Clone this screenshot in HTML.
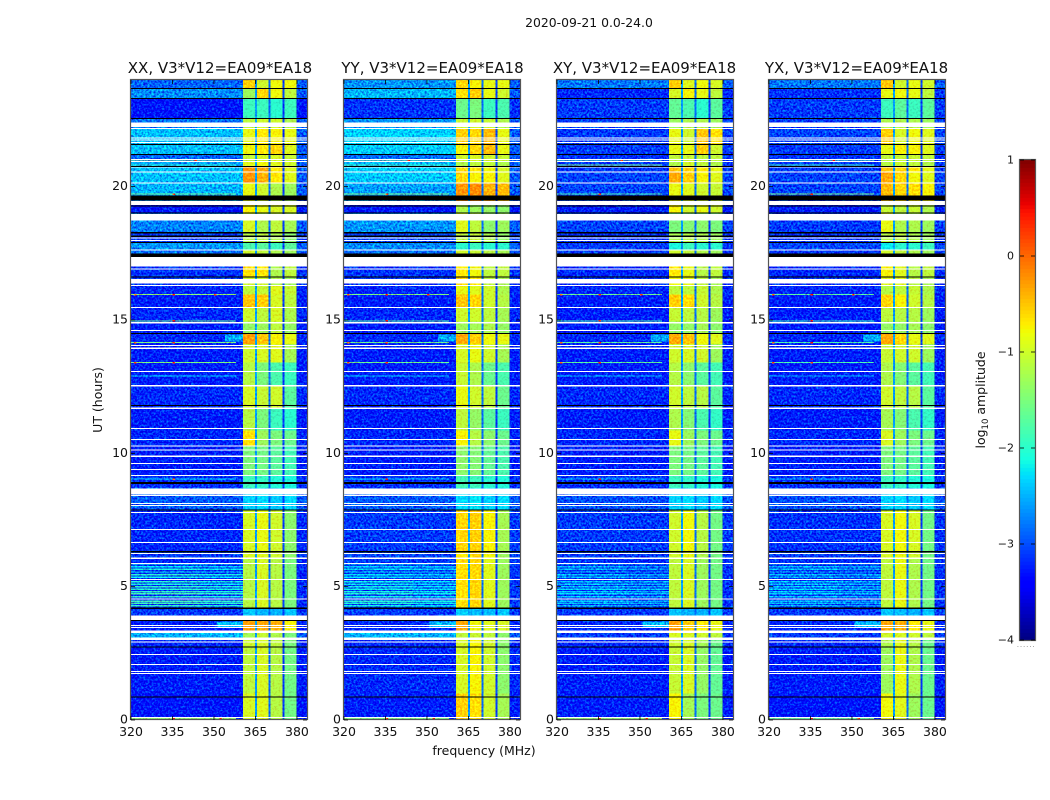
<!DOCTYPE html>
<html lang="en">
<head>
<meta charset="utf-8">
<title>2020-09-21 amplitude waterfall</title>
<style>
html,body{margin:0;padding:0;background:#fff;width:1050px;height:800px;overflow:hidden}
svg{display:block;font-family:"DejaVu Sans","Liberation Sans",sans-serif;fill:#111}
</style>
</head>
<body>
<svg id="chart" width="1050" height="800" viewBox="0 0 1050 800" xmlns="http://www.w3.org/2000/svg">
  <defs>
    <filter id="grain" x="0" y="0" width="100%" height="100%" color-interpolation-filters="sRGB">
      <feTurbulence type="fractalNoise" baseFrequency="0.48" numOctaves="2" seed="7" result="n"/>
      <feColorMatrix in="n" type="matrix" values="0 0 0 0 0.5  1.5 0 0 0 -0.25  0.5 0 0 0 0.25  0 0 0 0 1" result="g"/>
      <feComposite in="SourceGraphic" in2="g" operator="arithmetic" k1="0" k2="1" k3="0.9" k4="-0.45"/>
    </filter>
    <filter id="grain-soft" x="0" y="0" width="100%" height="100%" color-interpolation-filters="sRGB">
      <feTurbulence type="fractalNoise" baseFrequency="0.48" numOctaves="2" seed="11" result="n"/>
      <feColorMatrix in="n" type="matrix" values="0 0 0 0 0.5  1.5 0 0 0 -0.25  0.5 0 0 0 0.25  0 0 0 0 1" result="g"/>
      <feComposite in="SourceGraphic" in2="g" operator="arithmetic" k1="0" k2="1" k3="0.4" k4="-0.2"/>
    </filter>
  </defs>
  <text x="589" y="27" font-size="12.4" text-anchor="middle">2020-09-21 0.0-24.0</text>
  <g id="panels"></g>
  <text x="484" y="755" font-size="12.5" text-anchor="middle">frequency (MHz)</text>
  <text transform="translate(102,400) rotate(-90)" font-size="12.5" text-anchor="middle">UT (hours)</text>
  <g id="colorbar"></g>
  <text transform="translate(985,400) rotate(-90)" font-size="12.5" text-anchor="middle">log<tspan font-size="8.5" dy="3">10</tspan><tspan dy="-3"> amplitude</tspan></text>
  <text x="1026" y="647" font-size="8" fill="#999" text-anchor="middle" letter-spacing="0.6">......</text>
</svg>
<script>
/* ---------- data ---------- */
const panelTitles = ["XX, V3*V12=EA09*EA18","YY, V3*V12=EA09*EA18","XY, V3*V12=EA09*EA18","YX, V3*V12=EA09*EA18"];
const xTicks = [320,335,350,365,380];
const yTicks = [0,5,10,15,20];
const cbTicks = [1,0,-1,-2,-3,-4];

/* spectral-window frequency limits, MHz */
const lowBand = [320,360.5];
const windows = [[360.5,364.9],[365.4,369.9],[370.4,374.9],[375.4,379.9]];
const tailBand = [379.9,384];
const gapFreqs = [364.8,369.8,374.8];
const gapAmps = [-2.6,-2.85,-3.1];

/* time bands, UT hours */
const bandHours = [[24,23.68],[23.68,23.31],[23.31,22.56],[22.56,22.2],[22.2,21.6],[21.6,21.21],[21.21,20.95],[20.95,20.75],[20.75,20.55],[20.55,20.13],
[20.13,19.75],[19.75,19.47],[19.47,18.99],[18.99,18.3],[18.3,17.9],[17.9,17.62],[17.62,17.36],[17.36,16.6],[16.6,16.3],[16.3,15.95],
[15.95,15.45],[15.45,14.95],[14.95,14.52],[14.52,14.1],[14.1,13.4],[13.4,12.5],[12.5,11.7],[11.7,10.85],[10.85,10.27],[10.27,9.15],
[9.15,8.7],[8.7,7.87],[7.87,6.33],[6.33,6.03],[6.03,4.2],[4.2,3.73],[3.73,3.35],[3.35,3.0],[3.0,2.72],[2.72,1.0],[1.0,0]];

/* log10 amplitude per band: low band, window 1..4 */
const xxValues = [[-2.9,-.55,-1,-.8,-.8],[-2.7,-1.3,-.6,-.8,-1.1],[-3.3,-1.9,-1.9,-2,-1.9],[-2.8,-1.1,-1,-1,-1.2],[-2.45,-.85,-.7,-.75,-.85],[-2.45,-.8,-.7,-.6,-.9],[-2.9,-1.05,-.95,-.95,-1.05],[-2.6,-.9,-.8,-.9,-1],[-2.45,-.25,-.35,-.7,-.9],[-2.45,-.25,-.4,-.7,-.9],
[-2.5,-.85,-1,-1.2,-1.3],[-2.6,-.85,-1,-1.2,-1.3],[-3.3,-.75,-.85,-.95,-.95],[-2.75,-.95,-1.2,-1.1,-1.25],[-3.1,-1.15,-1.1,-1.2,-1.4],[-2.65,-1.8,-1.7,-1.9,-1.7],[-2.85,-1,-1.1,-1.2,-1.3],[-3.15,-.65,-.7,-1.2,-1.1],[-3.1,-1,-1,-1.2,-1.3],[-3.2,-1.1,-1.05,-.9,-1.05],
[-3.25,-.5,-.55,-.95,-1.1],[-3.2,-1,-1.1,-.95,-1.2],[-3.25,-1.35,-1.3,-1.1,-1.35],[-3.2,-.3,-.5,-.75,-.85],[-3.25,-1,-.95,-.9,-1.25],[-3.25,-1.15,-1.5,-1.8,-1.9],[-3.2,-.95,-1.05,-1,-1.7],[-3.25,-1.15,-1.5,-1.9,-2],[-3.2,-.65,-1.3,-1.5,-1.6],[-3.25,-1.5,-1.55,-1.7,-1.85],
[-3.15,-1.9,-1.95,-2.05,-2.1],[-2.95,-2.35,-2.3,-2.4,-2.3],[-3.2,-.95,-.85,-1,-1.4],[-3.1,-.95,-.9,-1,-1.4],[-3.2,-1.15,-.95,-1.15,-1.5],[-3.1,-2.4,-2.5,-2.5,-2.4],[-3.25,-.3,-.35,-.4,-.75],[-2.5,-1.25,-1.05,-1.2,-1.5],[-3.2,-1,-.95,-1.1,-1.5],[-3.25,-1.1,-.95,-1.15,-1.55],[-3.3,-.95,-.9,-1.15,-1.55]];
const yyValues = [[-2.65,-.6,-.75,-.85,-.85],[-2.5,-.65,-.55,-.85,-1],[-3.15,-1.6,-1.5,-1.9,-1.8],[-2.65,-1.05,-1,-1.05,-1.2],[-2.35,-.55,-.6,-.45,-.85],[-2.38,-.75,-.6,-.45,-.85],[-2.85,-1,-.95,-1,-1.05],[-2.5,-1.2,-1.1,-1.1,-1.2],[-2.38,-.6,-.7,-.8,-.95],[-2.4,-.6,-.75,-.75,-.9],
[-2.6,-.25,-.2,-.4,-.45],[-2.65,-.25,-.2,-.4,-.45],[-3.3,-1.2,-1.3,-1.35,-1.4],[-2.65,-.9,-1.1,-1.4,-1.3],[-3.05,-1.1,-1.05,-1.2,-1.35],[-2.7,-2,-1.9,-2,-2],[-2.85,-1,-1.05,-1.15,-1.25],[-3.15,-.7,-.8,-1.1,-1.1],[-3.1,-.6,-.7,-1.1,-1.25],[-3.2,-.85,-.9,-1,-1.2],
[-3.25,-.5,-.6,-1,-1.15],[-3.2,-1,-1,-1.1,-1.25],[-3.25,-1.3,-1.25,-1.2,-1.35],[-3.2,-.35,-.55,-.8,-.85],[-3.25,-.95,-.85,-1,-1.25],[-3.25,-1.05,-1.2,-1.6,-1.8],[-3.2,-.85,-1,-1.1,-1.6],[-3.25,-1.1,-1.35,-1.7,-1.9],[-3.2,-.75,-1.15,-1.4,-1.6],[-3.25,-1.4,-1.45,-1.65,-1.8],
[-3.15,-1.85,-1.9,-2,-2.05],[-2.95,-2.3,-2.25,-2.35,-2.3],[-3.1,-.6,-.55,-.75,-1.25],[-3.05,-.7,-.6,-.8,-1.3],[-3.1,-.65,-.6,-.9,-1.3],[-3.1,-2.35,-2.45,-2.45,-2.4],[-3.2,-.35,-.8,-.9,-.95],[-2.5,-1.1,-1.05,-1.1,-1.4],[-3.2,-.95,-.75,-1,-1.4],[-3.2,-.95,-.75,-1,-1.4],[-3.25,-.55,-.65,-1,-1.25]];
const xyValues = [[-2.8,-.55,-.9,-.8,-.95],[-3.2,-.95,-.75,-.85,-1.1],[-3.1,-1.65,-1.8,-2,-1.7],[-3.1,-1.3,-1.2,-1.2,-1.3],[-3.1,-.85,-1,-.5,-.65],[-3.1,-.85,-.85,-.55,-1],[-3.15,-1.1,-1.05,-1.1,-1.1],[-3.1,-1.2,-1,-1.1,-1.2],[-3.1,-.5,-.6,-.7,-.85],[-3.05,-.35,-.55,-.75,-.9],
[-3.05,-.85,-.9,-1,-1.05],[-3.05,-.85,-.9,-1,-1.05],[-3.25,-.75,-1,-.85,-1],[-3.05,-1.5,-1.45,-1.4,-1.5],[-3.15,-1.2,-1.15,-1.2,-1.3],[-3.1,-2.1,-1.9,-2,-2],[-3.1,-1,-1.1,-1.2,-1.3],[-3.2,-.7,-.85,-1.15,-1.1],[-3.15,-.8,-.85,-1.1,-1.25],[-3.2,-1.1,-1.1,-1.05,-1.2],
[-3.25,-.55,-.65,-1,-1.15],[-3.25,-1.05,-1.1,-1.15,-1.3],[-3.25,-1.35,-1.35,-1.25,-1.4],[-3.2,-.35,-.5,-.8,-.9],[-3.25,-1,-.95,-1,-1.3],[-3.25,-1.15,-1.4,-1.7,-1.85],[-3.2,-1,-1.1,-1.15,-1.7],[-3.25,-1.2,-1.45,-1.8,-1.95],[-3.2,-.85,-1.3,-1.5,-1.6],[-3.25,-1.5,-1.55,-1.7,-1.85],
[-3.15,-1.9,-1.95,-2.05,-2.1],[-3,-2.35,-2.3,-2.4,-2.3],[-3.1,-1,-.8,-1.15,-1.55],[-3.1,-1,-.85,-1.2,-1.55],[-3.15,-1.1,-.95,-1.3,-1.55],[-3.1,-2.4,-2.5,-2.5,-2.4],[-3.2,-.3,-.55,-.7,-.85],[-3.1,-.95,-.95,-1,-1.1],[-3.2,-1,-.95,-1.25,-1.6],[-3.25,-1.05,-.95,-1.35,-1.65],[-3.25,-.75,-1.25,-1.5,-1.6]];
const yxValues = [[-2.8,-.5,-1,-.85,-1],[-3.15,-.85,-.8,-.85,-1.1],[-3.1,-1.9,-1.7,-1.9,-1.7],[-3.1,-1.2,-1.2,-1.2,-1.3],[-3.05,-.55,-.95,-.8,-.9],[-3.1,-.85,-.75,-.75,-.9],[-3.15,-1.1,-1.05,-1.05,-1.1],[-3.1,-1.15,-1.05,-1.1,-1.2],[-3.1,-.5,-.6,-.7,-.85],[-3.05,-.35,-.6,-.8,-.9],
[-3.05,-.45,-.6,-.65,-.75],[-3.05,-.45,-.6,-.65,-.75],[-3.25,-1.05,-1.1,-1.05,-1.2],[-3.1,-.85,-1.2,-1.2,-1.3],[-3.15,-1.15,-1.1,-1.2,-1.3],[-3.05,-2.2,-2,-2,-1.9],[-3.1,-1,-1.1,-1.2,-1.3],[-3.2,-.75,-.9,-1.15,-1.1],[-3.15,-.9,-.9,-1.15,-1.25],[-3.2,-1.15,-1.1,-1.05,-1.2],
[-3.25,-.6,-.75,-1,-1.15],[-3.25,-1.1,-1.15,-1.15,-1.3],[-3.25,-1.35,-1.35,-1.25,-1.4],[-3.2,-.35,-.6,-.85,-.9],[-3.25,-1.05,-1,-1,-1.3],[-3.25,-1.2,-1.45,-1.7,-1.85],[-3.2,-1,-1.1,-1.15,-1.7],[-3.25,-1.25,-1.45,-1.8,-1.95],[-3.2,-.95,-1.3,-1.5,-1.6],[-3.25,-1.5,-1.55,-1.7,-1.85],
[-3.15,-1.9,-1.95,-2.05,-2.1],[-3,-2.35,-2.3,-2.4,-2.3],[-3.15,-.95,-.8,-.95,-1.55],[-3.1,-.95,-.85,-1,-1.55],[-3.15,-1.1,-.85,-1.2,-1.55],[-3.1,-2.4,-2.45,-2.5,-2.4],[-3.2,-.35,-.4,-.7,-.85],[-3.1,-1,-.95,-1,-1.1],[-3.2,-1.2,-.9,-1.15,-1.6],[-3.25,-1.3,-.85,-1.2,-1.6],[-3.3,-.8,-.9,-1.3,-1.6]];

/* 4-6 UT stripes in the low band */
const stripeHours = [5.85,5.75,5.65,5.55,5.45,5.35,5.19,5.09,5.0,4.9,4.81,4.73,4.62,4.46,4.38,4.29];
const xxStripes = [-2.2,-2.25,-2.1,-2.2,-2,-2.15,-2,-2.1,-1.95,-2,-1.95,-1.85,-1.95,-1.85,-1.85,-1.95];
const yyStripes = [-2.4,-2.35,-2.25,-2.3,-2.25,-2.3,-2.15,-2.2,-2.15,-2.15,-2.1,-2.05,-2.1,-2,-2.05,-2.15];
const xyStripes = [-2.6,-2.5,-2.5,-2.5,-2.4,-2.5,-2.4,-2.4,-2.4,-2.3,-2.4,-2.3,-2.4,-2.4,-2.4,-2.5];
const yxStripes = [-2.6,-2.45,-2.45,-2.5,-2.4,-2.5,-2.35,-2.4,-2.35,-2.35,-2.4,-2.35,-2.4,-2.45,-2.45,-2.5];

/* narrow interference rows in the low band */
const rfiHours = [20.97,20.82,19.72,17.1,15.95,14.97,14.15,13.4,12.9,9.03,0.05];
const xxRfi = [-1.5,-2,-1.6,-2.2,-1.4,-1.6,-1.5,-1.5,-2.3,-2.3,-1.4];
const yyRfi = [-1.5,-1.9,-1.5,-2.2,-1.5,-1.7,-1.6,-1.6,-2.3,-2.3,-1.5];
const xyRfi = [-1.7,-1.5,-1.8,-1.8,-1.6,-1.8,-1.7,-1.7,-2.4,-2.4,-1.4];
const yxRfi = [-1.7,-1.9,-1.5,-1.9,-1.7,-1.9,-1.8,-1.8,-2.5,-2.5,-1.7];
const spotHours = [20.97,19.72,15.95,15.95,15.95,14.97,14.15,14.15,13.4,13.4,0.05,0.05,9.03];
const spotFreqs = [343,335,321,335,350,335,321,335,321,335,335,352,335];
const spotAmps = [.4,.2,0,.4,.2,.4,.1,.4,.1,.3,.4,.3,.2];

/* ramps just below the bright windows: hour start, hour end, freq start */
const rampHours = [[14.45,14.2],[3.7,3.45]];
const rampFreqs = [354,351];
const rampAmps = [-2.55,-2.45];

/* flagged rows */
const whiteFlags = [[22.4,22.24],[22.2,22.16],[21.84,21.81],[21.77,21.73],[21.67,21.64],[21.04,21],[20.96,20.93],[20.75,20.71],[20.57,20.53],[20.16,20.11],[19.47,19.31],[18.98,18.74],[18.1,18.06],[18,17.96],[17.65,17.61],[17.36,17.01],[16.94,16.9],[16.54,16.36],[16.31,16.28],[15.49,15.45],[14.93,14.87],[14.63,14.59],[14.06,14.03],[13.96,13.92],[13.09,13.05],[12.56,12.51],[11.71,11.67],[10.95,10.91],[10.54,10.5],[10.29,10.25],[10.14,10.1],[9.91,9.87],[9.64,9.6],[9.41,9.38],[9.19,9.15],[8.69,8.46],[8.44,8.4],[8.14,8.1],[8.06,8.03],[7.8,7.76],[7.16,7.13],[6.68,6.64],[6.26,6.23],[6.1,6.03],[5.89,5.85],[5.29,5.25],[4.56,4.53],[3.91,3.75],[3.56,3.53],[3.49,3.45],[3.35,3.27],[3.1,3],[2.94,2.9],[2.48,2.44],[2.1,2.06],[1.84,1.8],[1.76,1.73],[0.11,0.08]];
const blackFlags = [[23.7,23.66],[23.33,23.29],[22.58,22.54],[21.6,21.56],[21.23,21.19],[20.78,20.74],[19.66,19.49],[19.3,19.25],[19.04,18.99],[18.3,18.24],[18.16,18.12],[17.93,17.89],[17.5,17.37],[16.63,16.59],[14.51,14.48],[11.81,11.78],[8.93,8.85],[7.9,7.85],[6.33,6.29],[4.21,4.17],[3.75,3.71],[2.75,2.71],[0.89,0.85]];

/* ---------- layout ---------- */
const NS = "http://www.w3.org/2000/svg";
const panelLefts = [131,344,557,769];
const titleCenters = [220,432.5,644.5,856.5];
const panelWidth = 177;
const plotTop = 80, plotBottom = 720;
const freqMin = 320, freqMax = 384, hourMin = 0, hourMax = 24;
const cbLeft = 1020, cbRight = 1035, cbTop = 160, cbBottom = 640, cbMin = -4, cbMax = 1;
const panelValues = [xxValues,yyValues,xyValues,yxValues];
const panelStripes = [xxStripes,yyStripes,xyStripes,yxStripes];
const panelRfi = [xxRfi,yyRfi,xyRfi,yxRfi];

function yScale(h){ return plotBottom - (h-hourMin)/(hourMax-hourMin)*(plotBottom-plotTop); }
function xScale(f,left){ return left + (f-freqMin)/(freqMax-freqMin)*panelWidth; }

function interp(pts,t){
  for(let i=1;i<pts.length;i++){
    if(t<=pts[i][0]){
      const a=pts[i-1],b=pts[i];
      return a[1]+(b[1]-a[1])*(t-a[0])/(b[0]-a[0]);
    }
  }
  return pts[pts.length-1][1];
}
const jetR=[[0,0],[.35,0],[.66,1],[.89,1],[1,.5]];
const jetG=[[0,0],[.125,0],[.375,1],[.64,1],[.91,0],[1,0]];
const jetB=[[0,.5],[.11,1],[.34,1],[.65,0],[1,0]];
function jet(v){
  const t=Math.max(0,Math.min(1,(v-cbMin)/(cbMax-cbMin)));
  return "rgb("+Math.round(255*interp(jetR,t))+","+Math.round(255*interp(jetG,t))+","+Math.round(255*interp(jetB,t))+")";
}
function mk(parent,tag,attrs){
  const el=document.createElementNS(NS,tag);
  for(const k in attrs){ el.setAttribute(k,attrs[k]); }
  parent.appendChild(el);
  return el;
}
function cell(parent,left,f0,f1,h0,h1,amp){
  const x0=xScale(f0,left),x1=xScale(f1,left),y0=yScale(h0),y1=yScale(h1);
  return mk(parent,"rect",{x:x0.toFixed(2),y:y0.toFixed(2),width:(x1-x0).toFixed(2),height:(y1-y0).toFixed(2),fill:jet(amp),"shape-rendering":"crispEdges"});
}

const panelsRoot=document.getElementById("panels");
panelLefts.forEach(function(left,p){
  const g=mk(panelsRoot,"g",{});
  
  

  const data=mk(g,"g",{filter:"url(#grain)"});
  
  

  const dataWin=mk(g,"g",{filter:"url(#grain-soft)"});
  
  

  bandHours.forEach(function(b,i){
    const row=panelValues[p][i];
    const low=cell(data,left,lowBand[0],lowBand[1],b[0],b[1],row[0]);
    
    
    windows.forEach(function(w,j){
      const c=cell(dataWin,left,w[0],w[1],b[0],b[1],row[j+1]);
      
      
    });
    gapFreqs.forEach(function(f,j){
      const c=cell(dataWin,left,f,f+0.7,b[0],b[1],gapAmps[j]);
      
      
    });
    const tail=cell(data,left,tailBand[0],tailBand[1],b[0],b[1],Math.min(row[0],-2.95));
    
    
  });

  stripeHours.forEach(function(h,i){
    const a=cell(data,left,lowBand[0],345,h+0.026,h-0.026,panelStripes[p][i]);
    
    
    const c=cell(data,left,345,lowBand[1],h+0.026,h-0.026,panelStripes[p][i]-0.12);
    
    
  });

  rampHours.forEach(function(r,i){
    const c=cell(data,left,rampFreqs[i],lowBand[1],r[0],r[1],rampAmps[i]);
    
    
  });

  rfiHours.forEach(function(h,i){
    const c=cell(data,left,lowBand[0],358,h+0.02,h-0.02,panelRfi[p][i]);
    
    
  });
  spotHours.forEach(function(h,i){
    const c=cell(data,left,spotFreqs[i],spotFreqs[i]+0.9,h+0.03,h-0.03,spotAmps[i]);
    
    
  });

  whiteFlags.forEach(function(b){
    const r=mk(g,"rect",{x:left,y:yScale(b[0]).toFixed(2),width:panelWidth,height:Math.max(1,yScale(b[1])-yScale(b[0])).toFixed(2),fill:"#fff","shape-rendering":"crispEdges"});
    
    
  });
  blackFlags.forEach(function(b){
    const r=mk(g,"rect",{x:left,y:yScale(b[0]).toFixed(2),width:panelWidth,height:Math.max(1,yScale(b[1])-yScale(b[0])).toFixed(2),fill:"#000","shape-rendering":"crispEdges"});
    
    
  });

  const frame=mk(g,"rect",{x:left-0.5,y:plotTop-0.5,width:panelWidth,height:plotBottom-plotTop,fill:"none",stroke:"#555","stroke-width":1.2});
  
  

  const title=mk(g,"text",{x:titleCenters[p],y:73,"font-size":"15","text-anchor":"middle"});
  title.textContent=panelTitles[p];
  
  

  xTicks.forEach(function(t){
    const x=xScale(t,left);
    const a=mk(g,"line",{x1:x,x2:x,y1:plotBottom,y2:plotBottom-4,stroke:"#000","stroke-width":0.8});
    
    
    const b=mk(g,"line",{x1:x,x2:x,y1:plotTop,y2:plotTop+4,stroke:"#000","stroke-width":0.8});
    
    
    const l=mk(g,"text",{x:x,y:736,"font-size":"12.5","text-anchor":"middle"});
    l.textContent=t;
    
    
  });
  yTicks.forEach(function(t){
    const y=yScale(t);
    const a=mk(g,"line",{x1:left,x2:left+4,y1:y,y2:y,stroke:"#000","stroke-width":0.8});
    
    
    const b=mk(g,"line",{x1:left+panelWidth-1,x2:left+panelWidth-5,y1:y,y2:y,stroke:"#000","stroke-width":0.8});
    
    
    const l=mk(g,"text",{x:left-3,y:y+3.5,"font-size":"12.5","text-anchor":"end"});
    l.textContent=t;
    
    
  });
});

/* colorbar */
const cb=document.getElementById("colorbar");
const cbLevels=128;
for(let i=0;i<cbLevels;i++){
  const v=cbMin+(cbMax-cbMin)*(i+0.5)/cbLevels;
  const y0=cbBottom-(i+1)/cbLevels*(cbBottom-cbTop);
  const r=mk(cb,"rect",{x:cbLeft,y:y0.toFixed(2),width:cbRight-cbLeft,height:((cbBottom-cbTop)/cbLevels+0.4).toFixed(2),fill:jet(v)});
  
  
}
const cbFrame=mk(cb,"rect",{x:cbLeft-0.5,y:cbTop-0.5,width:cbRight-cbLeft+1,height:cbBottom-cbTop+1,fill:"none",stroke:"#555","stroke-width":1.2});


cbTicks.forEach(function(t){
  const y=cbBottom-(t-cbMin)/(cbMax-cbMin)*(cbBottom-cbTop);
  const a=mk(cb,"line",{x1:cbLeft,x2:cbLeft+4,y1:y,y2:y,stroke:"#000","stroke-width":0.8});
  
  
  const b=mk(cb,"line",{x1:cbRight,x2:cbRight-4,y1:y,y2:y,stroke:"#000","stroke-width":0.8});
  
  
  const l=mk(cb,"text",{x:1014,y:y+3.5,"font-size":"11","text-anchor":"end"});
  l.textContent=String(t).replace("-","\u2212");
  
  
});
</script>
</body>
</html>
